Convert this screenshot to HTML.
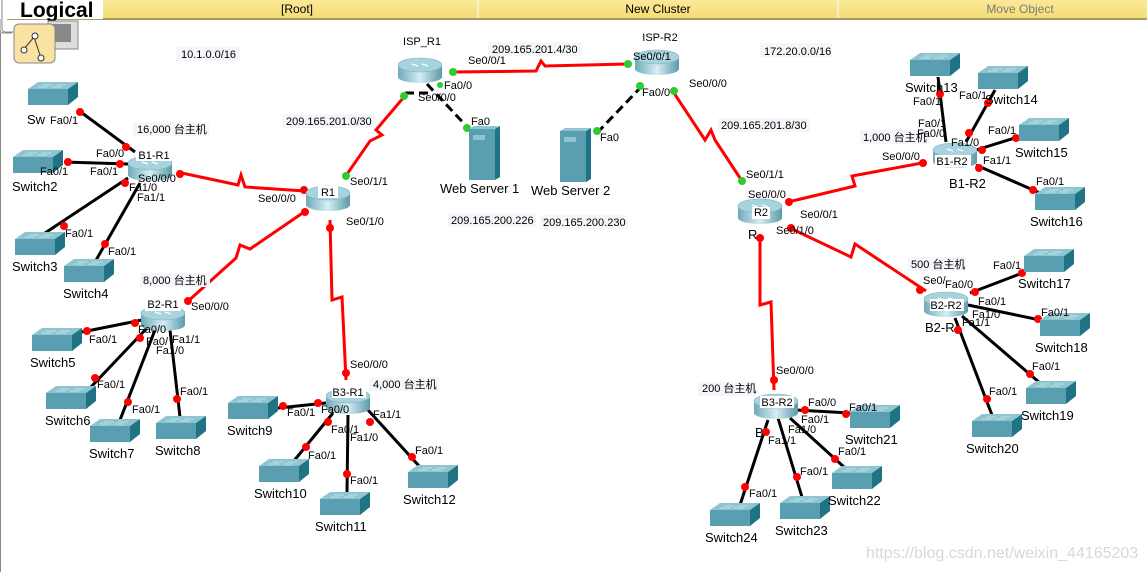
<!DOCTYPE html>
<html><head><meta charset="utf-8"><style>
html,body{margin:0;padding:0;background:#fff;width:1147px;height:572px;overflow:hidden}
svg{display:block}
text{font-family:"Liberation Sans","Noto Sans CJK SC",sans-serif;font-size:11px;fill:#000}
.n{font-size:13px}
.ip{font-size:11px}
</style></head><body>
<svg width="1147" height="572" viewBox="0 0 1147 572" xmlns="http://www.w3.org/2000/svg">
<defs>
<linearGradient id="bar" x1="0" y1="0" x2="0" y2="1"><stop offset="0" stop-color="#fbe99a"/><stop offset="1" stop-color="#f5dc73"/></linearGradient>
<linearGradient id="rb" x1="0" y1="0" x2="1" y2="0"><stop offset="0" stop-color="#6fa9b8"/><stop offset=".5" stop-color="#d6eef3"/><stop offset="1" stop-color="#5c98a8"/></linearGradient>
<g id="sw"><polygon points="0,7 10,0 50,0 40,7" fill="#8ec5d1"/><rect x="0" y="7" width="40" height="16" fill="#5a9fb1"/><polygon points="40,7 50,0 50,15 40,23" fill="#1f7384"/><g stroke="#bfe0e7" stroke-width="1"><line x1="14" y1="3" x2="24" y2="3"/><line x1="28" y1="3" x2="38" y2="3"/><line x1="10" y1="5" x2="20" y2="5"/><line x1="24" y1="5" x2="34" y2="5"/></g></g>
<g id="rt"><rect x="-22" y="-5" width="44" height="12" fill="url(#rb)"/><ellipse cx="0" cy="7" rx="22" ry="6" fill="url(#rb)"/><ellipse cx="0" cy="-5" rx="22" ry="7" fill="#a7d3de" stroke="#7fb3c1" stroke-width=".6"/><g stroke="#fff" stroke-width="1.2"><line x1="-8" y1="-6" x2="-2" y2="-4"/><line x1="8" y1="-4" x2="2" y2="-6"/></g></g>
<g id="srv"><rect x="0" y="0" width="26" height="51" fill="#5a9fb1"/><polygon points="26,0 31,-3 31,48 26,51" fill="#1f7384"/><polygon points="0,0 5,-3 31,-3 26,0" fill="#8ec5d1"/><rect x="4" y="6" width="12" height="5" fill="#8ec5d1"/></g>
</defs>

<!-- top bar -->
<rect x="0" y="0" width="1147" height="18" fill="url(#bar)"/>
<line x1="0" y1="19" x2="1147" y2="19" stroke="#a59a6a" stroke-width="2"/>
<line x1="478" y1="0" x2="478" y2="18" stroke="#fff"/>
<line x1="838" y1="0" x2="838" y2="18" stroke="#fff"/>
<text x="297" y="13" text-anchor="middle" style="font-size:12px">[Root]</text>
<text x="658" y="13" text-anchor="middle" style="font-size:12px">New Cluster</text>
<text x="1020" y="13" text-anchor="middle" style="font-size:12px;fill:#7a7a7a">Move Object</text>
<path d="M0,0 L0,30 Q0,33 4,33 L12,33" fill="#fff" stroke="#888"/>
<rect x="0" y="0" width="103" height="19" fill="#fff"/>
<text x="20" y="17" style="font-size:21px;font-weight:bold">Logical</text>
<path d="M2,0 L2,29 Q2,32 6,32 L14,32" fill="none" stroke="#888"/>
<rect x="48" y="21" width="30" height="28" fill="#ddd" stroke="#888"/>
<rect x="53" y="24" width="18" height="18" fill="#888"/>
<rect x="14" y="24" width="41" height="39" rx="5" fill="#f8e3a3" stroke="#888"/>
<g stroke="#333" fill="#fff" stroke-width="1"><line x1="24" y1="49" x2="34" y2="37"/><line x1="34" y1="37" x2="41" y2="58"/><circle cx="24" cy="50" r="3"/><circle cx="35" cy="36" r="3"/><circle cx="41" cy="58" r="3"/></g>
<line x1="0" y1="33" x2="0" y2="572" stroke="#888" stroke-width="2"/>

<!-- black links -->
<g stroke="#000" stroke-width="3" fill="none">
<line x1="78" y1="110" x2="135" y2="152"/><line x1="64" y1="162" x2="130" y2="164"/>
<line x1="42" y1="235" x2="128" y2="178"/><line x1="95" y1="262" x2="140" y2="183"/>
<line x1="82" y1="332" x2="142" y2="320"/><line x1="90" y1="388" x2="147" y2="328"/>
<line x1="120" y1="420" x2="155" y2="330"/><line x1="180" y1="417" x2="170" y2="330"/>
<line x1="278" y1="408" x2="326" y2="403"/><line x1="293" y1="462" x2="333" y2="413"/>
<line x1="347" y1="493" x2="348" y2="415"/><line x1="420" y1="467" x2="368" y2="410"/>
<line x1="938" y1="77" x2="946" y2="142"/><line x1="995" y1="90" x2="966" y2="142"/>
<line x1="1018" y1="137" x2="976" y2="150"/><line x1="1040" y1="193" x2="976" y2="165"/>
<line x1="1025" y1="272" x2="970" y2="293"/><line x1="1040" y1="320" x2="968" y2="305"/>
<line x1="1040" y1="383" x2="962" y2="316"/><line x1="992" y1="415" x2="955" y2="318"/>
<line x1="850" y1="413" x2="796" y2="410"/><line x1="844" y1="467" x2="790" y2="418"/>
<line x1="802" y1="497" x2="778" y2="418"/><line x1="740" y1="505" x2="768" y2="420"/>
</g>
<g stroke="#000" stroke-width="3" stroke-dasharray="9,5" fill="none">
<line x1="427" y1="84" x2="470" y2="130"/><line x1="642" y1="86" x2="597" y2="133"/>
<line x1="405" y1="93" x2="430" y2="93"/>
</g>
<!-- red serial links -->
<g stroke="#f00" stroke-width="3" fill="none" stroke-linejoin="miter">
<polyline points="177,172 238,185 241,175 245,187 305,191"/>
<polyline points="345,177 370,141 382,135 376,130 404,97"/>
<polyline points="453,72 536,71 541,61 545,66 628,64"/>
<polyline points="672,90 705,140 711,130 715,140 742,181"/>
<polyline points="788,202 855,186 852,176 922,163"/>
<polyline points="790,228 851,257 855,244 926,291"/>
<polyline points="760,235 760,305 771,302 774,390"/>
<polyline points="307,210 250,249 240,245 236,258 186,303"/>
<polyline points="330,220 332,300 342,297 346,380"/>
</g>

<!-- dots -->
<g fill="#f00">
<circle cx="80" cy="112" r="4"/><circle cx="126" cy="147" r="4"/><circle cx="68" cy="162" r="4"/><circle cx="120" cy="164" r="4"/>
<circle cx="64" cy="226" r="4"/><circle cx="125" cy="183" r="4"/><circle cx="105" cy="244" r="4"/>
<circle cx="180" cy="174" r="4"/><circle cx="304" cy="190" r="4"/><circle cx="305" cy="212" r="4"/><circle cx="188" cy="301" r="4"/>
<circle cx="330" cy="228" r="4"/><circle cx="346" cy="373" r="4"/>
<circle cx="87" cy="331" r="4"/><circle cx="135" cy="323" r="4"/><circle cx="95" cy="378" r="4"/><circle cx="140" cy="338" r="4"/>
<circle cx="128" cy="402" r="4"/><circle cx="177" cy="399" r="4"/>
<circle cx="283" cy="406" r="4"/><circle cx="318" cy="403" r="4"/><circle cx="306" cy="447" r="4"/><circle cx="328" cy="422" r="4"/>
<circle cx="347" cy="474" r="4"/><circle cx="412" cy="457" r="4"/><circle cx="370" cy="422" r="4"/>
<circle cx="940" cy="94" r="4"/><circle cx="988" cy="103" r="4"/><circle cx="969" cy="133" r="4"/><circle cx="1016" cy="138" r="4"/>
<circle cx="982" cy="150" r="4"/><circle cx="979" cy="168" r="4"/><circle cx="1033" cy="190" r="4"/><circle cx="923" cy="163" r="4"/><circle cx="789" cy="202" r="4"/>
<circle cx="920" cy="290" r="4"/><circle cx="975" cy="292" r="4"/><circle cx="1022" cy="273" r="4"/><circle cx="1038" cy="319" r="4"/>
<circle cx="1030" cy="374" r="4"/><circle cx="987" cy="399" r="4"/><circle cx="958" cy="330" r="4"/><circle cx="774" cy="380" r="4"/>
<circle cx="805" cy="410" r="4"/><circle cx="846" cy="414" r="4"/><circle cx="835" cy="459" r="4"/><circle cx="797" cy="477" r="4"/>
<circle cx="745" cy="487" r="4"/><circle cx="766" cy="432" r="4"/><circle cx="791" cy="228" r="4"/><circle cx="760" cy="238" r="4"/>
</g>
<g fill="#2ecc2e">
<circle cx="346" cy="176" r="4"/><circle cx="404" cy="96" r="4"/><circle cx="453" cy="72" r="4"/><circle cx="628" cy="64" r="4"/>
<circle cx="674" cy="91" r="4"/><circle cx="742" cy="181" r="4"/><circle cx="467" cy="128" r="4"/><circle cx="597" cy="131" r="4"/>
<circle cx="640" cy="86" r="4"/><circle cx="440" cy="85" r="3"/>
</g>

<!-- switches -->
<use href="#sw" x="28" y="82"/><use href="#sw" x="13" y="150"/><use href="#sw" x="15" y="232"/><use href="#sw" x="64" y="259"/>
<use href="#sw" x="32" y="328"/><use href="#sw" x="46" y="386"/><use href="#sw" x="90" y="419"/><use href="#sw" x="156" y="416"/>
<use href="#sw" x="228" y="396"/><use href="#sw" x="259" y="459"/><use href="#sw" x="320" y="492"/><use href="#sw" x="408" y="465"/>
<use href="#sw" x="910" y="53"/><use href="#sw" x="978" y="66"/><use href="#sw" x="1019" y="118"/><use href="#sw" x="1035" y="187"/>
<use href="#sw" x="1024" y="249"/><use href="#sw" x="1040" y="313"/><use href="#sw" x="1026" y="381"/><use href="#sw" x="972" y="414"/>
<use href="#sw" x="850" y="405"/><use href="#sw" x="832" y="466"/><use href="#sw" x="780" y="496"/><use href="#sw" x="710" y="503"/>
<!-- routers -->
<use href="#rt" x="150" y="168"/><use href="#rt" x="328" y="198"/><use href="#rt" x="163" y="318"/><use href="#rt" x="348" y="401"/>
<use href="#rt" x="420" y="70"/><use href="#rt" x="657" y="62"/><use href="#rt" x="760" y="211"/><use href="#rt" x="955" y="155"/>
<use href="#rt" x="946" y="304"/><use href="#rt" x="776" y="406"/>
<use href="#srv" x="469" y="129"/><use href="#srv" x="560" y="131"/>

<!-- router labels -->
<g text-anchor="middle">
<rect x="136" y="149" width="36" height="12" fill="#fff"/><text x="154" y="159">B1-R1</text>
<rect x="318" y="186" width="20" height="12" fill="#fff"/><text x="328" y="196">R1</text>
<rect x="145" y="299" width="36" height="12" fill="#fff"/><text x="163" y="308">B2-R1</text>
<rect x="332" y="386" width="34" height="12" fill="#fff"/><text x="348" y="396">B3-R1</text>
<rect x="935" y="155" width="36" height="12" fill="#fff"/><text x="952" y="165">B1-R2</text>
<rect x="930" y="299" width="34" height="12" fill="#fff"/><text x="946" y="309">B2-R2</text>
<rect x="760" y="396" width="34" height="12" fill="#fff"/><text x="777" y="406">B3-R2</text>
<rect x="752" y="207" width="18" height="12" fill="#fff"/><text x="761" y="216">R2</text>
<text x="422" y="45">ISP_R1</text><text x="660" y="41">ISP-R2</text>
</g>
<text class="n" x="949" y="188">B1-R2</text><text class="n" x="925" y="332">B2-R</text><text class="n" x="755" y="437">B</text><text class="n" x="748" y="239">R</text>

<!-- device names -->
<g class="n">
<text class="n" x="27" y="124">Sw</text><text class="n" x="12" y="191">Switch2</text><text class="n" x="12" y="271">Switch3</text><text class="n" x="63" y="298">Switch4</text>
<text class="n" x="30" y="367">Switch5</text><text class="n" x="45" y="425">Switch6</text><text class="n" x="89" y="458">Switch7</text><text class="n" x="155" y="455">Switch8</text>
<text class="n" x="227" y="435">Switch9</text><text class="n" x="254" y="498">Switch10</text><text class="n" x="315" y="531">Switch11</text><text class="n" x="403" y="504">Switch12</text>
<text class="n" x="905" y="92">Switch13</text><text class="n" x="985" y="104">Switch14</text><text class="n" x="1015" y="157">Switch15</text><text class="n" x="1030" y="226">Switch16</text>
<text class="n" x="1018" y="288">Switch17</text><text class="n" x="1035" y="352">Switch18</text><text class="n" x="1021" y="420">Switch19</text><text class="n" x="966" y="453">Switch20</text>
<text class="n" x="845" y="444">Switch21</text><text class="n" x="828" y="505">Switch22</text><text class="n" x="775" y="535">Switch23</text><text class="n" x="705" y="542">Switch24</text>
<text class="n" x="440" y="193">Web Server 1</text><text class="n" x="531" y="195">Web Server 2</text>
</g>

<!-- ip / host labels -->
<g>
<rect x="176" y="47" width="64" height="14" fill="#f4f6fa"/><text x="181" y="58">10.1.0.0/16</text>
<rect x="760" y="43" width="72" height="14" fill="#f4f6fa"/><text x="764" y="55">172.20.0.0/16</text>
<rect x="282" y="114" width="92" height="14" fill="#f4f6fa"/><text x="286" y="125">209.165.201.0/30</text>
<rect x="488" y="42" width="94" height="14" fill="#f4f6fa"/><text x="492" y="53">209.165.201.4/30</text>
<rect x="718" y="118" width="92" height="14" fill="#f4f6fa"/><text x="721" y="129">209.165.201.8/30</text>
<rect x="448" y="213" width="88" height="14" fill="#f4f6fa"/><text x="451" y="224">209.165.200.226</text>
<rect x="540" y="215" width="88" height="14" fill="#f4f6fa"/><text x="543" y="226">209.165.200.230</text>
<rect x="133" y="122" width="76" height="14" fill="#f4f6fa"/><text x="137" y="133">16,000 台主机</text>
<rect x="140" y="273" width="70" height="14" fill="#f4f6fa"/><text x="143" y="284">8,000 台主机</text>
<rect x="369" y="377" width="70" height="14" fill="#f4f6fa"/><text x="373" y="388">4,000 台主机</text>
<rect x="860" y="130" width="70" height="14" fill="#f4f6fa"/><text x="863" y="141">1,000 台主机</text>
<rect x="908" y="257" width="58" height="14" fill="#f4f6fa"/><text x="911" y="268">500 台主机</text>
<rect x="698" y="382" width="58" height="14" fill="#f4f6fa"/><text x="702" y="392">200 台主机</text>
</g>
<!-- interface labels -->
<g>
<text x="50" y="124">Fa0/1</text><text x="96" y="157">Fa0/0</text><text x="40" y="175">Fa0/1</text><text x="90" y="175">Fa0/1</text>
<text x="138" y="182">Se0/0/0</text><text x="129" y="191">Fa1/0</text><text x="137" y="201">Fa1/1</text>
<text x="65" y="237">Fa0/1</text><text x="108" y="255">Fa0/1</text>
<text x="258" y="202">Se0/0/0</text><text x="350" y="185">Se0/1/1</text><text x="346" y="225">Se0/1/0</text>
<text x="191" y="310">Se0/0/0</text><text x="138" y="333">Fa0/0</text><text x="89" y="343">Fa0/1</text><text x="146" y="345">Fa0/</text><text x="172" y="343">Fa1/1</text><text x="156" y="354">Fa1/0</text>
<text x="97" y="388">Fa0/1</text><text x="132" y="413">Fa0/1</text><text x="180" y="395">Fa0/1</text>
<text x="350" y="368">Se0/0/0</text><text x="287" y="416">Fa0/1</text><text x="321" y="413">Fa0/0</text><text x="331" y="433">Fa0/1</text><text x="373" y="418">Fa1/1</text><text x="350" y="441">Fa1/0</text>
<text x="308" y="459">Fa0/1</text><text x="350" y="484">Fa0/1</text><text x="415" y="454">Fa0/1</text>
<text x="468" y="64">Se0/0/1</text><text x="444" y="89">Fa0/0</text><text x="418" y="101">Se0/0/0</text><text x="471" y="125">Fa0</text>
<text x="633" y="60">Se0/0/1</text><text x="689" y="87">Se0/0/0</text><text x="642" y="96">Fa0/0</text><text x="600" y="141">Fa0</text>
<text x="746" y="178">Se0/1/1</text><text x="748" y="198">Se0/0/0</text><text x="800" y="218">Se0/0/1</text><text x="776" y="234">Se0/1/0</text>
<text x="913" y="105">Fa0/1</text><text x="959" y="99">Fa0/1</text><text x="918" y="127">Fa0/1</text><text x="917" y="137">Fa0/0</text><text x="951" y="146">Fa1/0</text>
<text x="988" y="134">Fa0/1</text><text x="983" y="164">Fa1/1</text><text x="1036" y="185">Fa0/1</text><text x="882" y="160">Se0/0/0</text>
<text x="993" y="269">Fa0/1</text><text x="923" y="284">Se0/</text><text x="945" y="288">Fa0/0</text><text x="978" y="305">Fa0/1</text><text x="972" y="318">Fa1/0</text><text x="962" y="326">Fa1/1</text>
<text x="1041" y="316">Fa0/1</text><text x="1032" y="370">Fa0/1</text><text x="989" y="395">Fa0/1</text>
<text x="776" y="374">Se0/0/0</text><text x="808" y="406">Fa0/0</text><text x="849" y="411">Fa0/1</text><text x="801" y="423">Fa0/1</text><text x="788" y="433">Fa1/0</text><text x="768" y="444">Fa1/1</text>
<text x="838" y="455">Fa0/1</text><text x="800" y="475">Fa0/1</text><text x="749" y="497">Fa0/1</text>
</g>
<text x="866" y="558" style="font-size:16px;fill:#d8d8d8">https://blog.csdn.net/weixin_44165203</text>
</svg>
</body></html>
